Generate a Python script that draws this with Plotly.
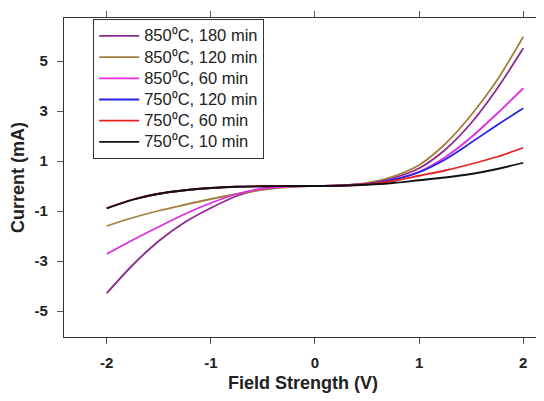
import plotly.graph_objects as go

field_v = [-2, -1.75, -1.5, -1.25, -1, -0.75, -0.5, -0.25, 0,
           0.25, 0.5, 0.75, 1, 1.25, 1.5, 1.75, 2]

series_names = [
    "850⁰C, 180 min",
    "850⁰C, 120 min",
    "850⁰C, 60 min",
    "750⁰C, 120 min",
    "750⁰C, 60 min",
    "750⁰C, 10 min",
]
current_850_180 = [-4.29, -3.16, -2.20, -1.45, -0.88, -0.40, -0.12, -0.02, 0,
                   0.02, 0.10, 0.32, 0.71, 1.45, 2.52, 3.90, 5.51]
current_850_120 = [-1.60, -1.27, -0.99, -0.75, -0.52, -0.32, -0.15, -0.04, 0,
                   0.02, 0.12, 0.38, 0.84, 1.68, 2.84, 4.24, 5.97]
current_850_60 = [-2.72, -2.16, -1.63, -1.12, -0.68, -0.32, -0.10, -0.02, 0,
                  0.02, 0.08, 0.26, 0.57, 1.15, 1.95, 2.90, 3.91]
current_750_120 = [-0.89, -0.54, -0.31, -0.17, -0.08, -0.03, -0.01, 0, 0,
                   0.02, 0.08, 0.25, 0.55, 1.06, 1.74, 2.44, 3.11]
current_750_60 = [-0.88, -0.54, -0.31, -0.17, -0.08, -0.03, -0.01, 0, 0,
                  0.02, 0.07, 0.20, 0.41, 0.62, 0.88, 1.17, 1.53]
current_750_10 = [-0.90, -0.55, -0.31, -0.17, -0.08, -0.03, -0.01, 0, 0,
                  0.01, 0.05, 0.12, 0.23, 0.34, 0.48, 0.68, 0.93]

y_ticks = [-5, -3, -1, 1, 3, 5]
y_tick_text = ["-5", "-3", "-1", "1", "3", "5"]
x_ticks = [-2, -1, 0, 1, 2]
x_tick_text = ["-2", "-1", "0", "1", "2"]

all_series = [current_850_180, current_850_120, current_850_60,
              current_750_120, current_750_60, current_750_10]
colors = ["#8B2A8E", "#A47E3C", "#E02CE0", "#2323E6", "#E82020", "#111111"]

fig = go.Figure()
for name, ys, c in zip(series_names, all_series, colors):
    fig.add_trace(go.Scatter(x=field_v, y=ys, mode="lines",
                             name='<span style="font-size:16.5px">' + name + "</span>",
                             line=dict(color=c, width=1.8, shape="spline", smoothing=0.8)))

axis_common = dict(
    showgrid=False, zeroline=False, showline=True, linecolor="#333333", linewidth=1.3,
    mirror="allticks", ticks="outside", ticklen=6, tickcolor="#555555", tickwidth=1,
    automargin=False,
    tickfont=dict(family="Liberation Sans, Arial", size=15, color="#222222", weight="bold"),
)

# the page body adds an 8px offset, so the figure is 8px smaller and margins 8px tighter
fig.update_layout(
    width=536, height=393,
    margin=dict(l=56, r=2, t=10, b=64),
    paper_bgcolor="white", plot_bgcolor="white",
    showlegend=True,
    legend=dict(x=0.061, y=0.996, xanchor="left", yanchor="top",
                bordercolor="#333333", borderwidth=1, bgcolor="white",
                font=dict(family="Liberation Sans, Arial", size=14, color="#222222"),
                tracegroupgap=0, itemwidth=40),
    xaxis=dict(range=[-2.41, 2.18], tickvals=x_ticks, ticktext=x_tick_text,
               ticklabelstandoff=6,
               title=dict(text="<b>Field Strength (V)</b>", standoff=6,
                          font=dict(family="Liberation Sans, Arial", size=18, color="#222222")),
               **axis_common),
    yaxis=dict(range=[-6.04, 6.72], tickvals=y_ticks, ticktext=y_tick_text,
               ticklabelstandoff=6,
               title=dict(text="<b>Current (mA)</b>", standoff=7,
                          font=dict(family="Liberation Sans, Arial", size=18, color="#222222")),
               **axis_common),
)

fig.write_html("out.html")
